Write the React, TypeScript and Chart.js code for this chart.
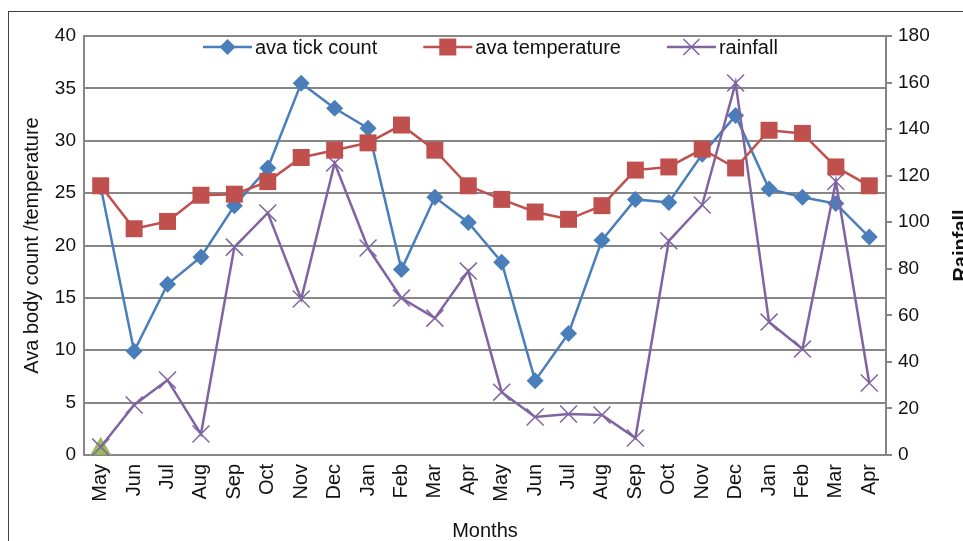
import React, { useEffect, useRef } from 'react';
import { Chart, registerables } from 'chart.js';

Chart.register(...registerables);

const months = ['May', 'Jun', 'Jul', 'Aug', 'Sep', 'Oct', 'Nov', 'Dec', 'Jan', 'Feb', 'Mar', 'Apr',
  'May', 'Jun', 'Jul', 'Aug', 'Sep', 'Oct', 'Nov', 'Dec', 'Jan', 'Feb', 'Mar', 'Apr'];

const tickCount = [25.6, 9.9, 16.3, 18.9, 23.8, 27.4, 35.5, 33.1, 31.2, 17.7, 24.6, 22.2,
  18.4, 7.1, 11.6, 20.5, 24.4, 24.1, 28.7, 32.4, 25.4, 24.6, 24.0, 20.8];

const temperature = [25.7, 21.6, 22.3, 24.8, 24.9, 26.1, 28.4, 29.1, 29.8, 31.5, 29.1, 25.7,
  24.4, 23.2, 22.5, 23.8, 27.2, 27.5, 29.2, 27.4, 31.0, 30.7, 27.5, 25.7];

const rainfall = [3.4, 21.5, 32.2, 9.0, 89.3, 104, 67, 125.4, 88.9, 67.4, 58.8, 79,
  27, 16.3, 17.6, 17.2, 7.3, 92, 107.4, 159.8, 57.1, 45.5, 117.5, 30.9];

const extraMarker = [0.6];

const leftTicks = { min: 0, max: 40, step: 5 };
const rightTicks = { min: 0, max: 180, step: 20 };

const FONT = '"Liberation Sans", Arial, sans-serif';
const BLUE = '#4A7EBB';
const RED = '#C0504D';
const PURPLE = '#8064A2';
const GREEN = '#9BBB59';
const GRID = '#868686';

const legendEntries = [
  { label: 'ava tick count', color: BLUE, style: 'diamond' },
  { label: 'ava temperature', color: RED, style: 'square' },
  { label: 'rainfall', color: PURPLE, style: 'cross' },
];

function drawMarker(ctx: CanvasRenderingContext2D, style: string, x: number, y: number, color: string) {
  ctx.save();
  ctx.fillStyle = color;
  ctx.strokeStyle = color;
  if (style === 'diamond') {
    const r = 8;
    ctx.beginPath();
    ctx.moveTo(x, y - r);
    ctx.lineTo(x + r, y);
    ctx.lineTo(x, y + r);
    ctx.lineTo(x - r, y);
    ctx.closePath();
    ctx.fill();
  } else if (style === 'square') {
    const s = 8.5;
    ctx.fillRect(x - s, y - s, 2 * s, 2 * s);
  } else {
    const r = 8;
    ctx.lineWidth = 1.5;
    ctx.beginPath();
    ctx.moveTo(x - r, y - r);
    ctx.lineTo(x + r, y + r);
    ctx.moveTo(x + r, y - r);
    ctx.lineTo(x - r, y + r);
    ctx.stroke();
  }
  ctx.restore();
}

const excelLegend = {
  id: 'excelLegend',
  afterDraw(chart: any) {
    const ctx: CanvasRenderingContext2D = chart.ctx;
    const area = chart.chartArea;
    ctx.save();
    ctx.font = `20px ${FONT}`;
    const lineLen = 49;
    const textGap = 3;
    const itemGap = 46;
    const widths = legendEntries.map((e) => lineLen + textGap + ctx.measureText(e.label).width);
    let x = area.left + 119;
    const y = area.top + 11;
    legendEntries.forEach((e, i) => {
      ctx.strokeStyle = e.color;
      ctx.lineWidth = 2.5;
      ctx.beginPath();
      ctx.moveTo(x, y);
      ctx.lineTo(x + lineLen, y);
      ctx.stroke();
      drawMarker(ctx, e.style, x + lineLen / 2, y, e.color);
      ctx.fillStyle = '#111';
      ctx.textBaseline = 'middle';
      ctx.textAlign = 'left';
      ctx.fillText(e.label, x + lineLen + textGap, y + 1);
      x += widths[i] + itemGap;
    });
    // right axis title
    ctx.font = `bold 20px ${FONT}`;
    ctx.fillStyle = '#111';
    ctx.translate(961, (area.top + area.bottom) / 2);
    ctx.rotate(-Math.PI / 2);
    ctx.textAlign = 'center';
    ctx.textBaseline = 'middle';
    ctx.fillText('Rainfall', 0, 0);
    ctx.restore();
  },
};

export default function App() {
  const ref = useRef<HTMLCanvasElement>(null);

  useEffect(() => {
    if (!ref.current) return;
    const chart = new Chart(ref.current, {
      type: 'line',
      data: {
        labels: months,
        datasets: [
          {
            label: 'ava tick count',
            data: tickCount,
            yAxisID: 'y',
            borderColor: BLUE,
            backgroundColor: BLUE,
            borderWidth: 2.5,
            pointStyle: 'rectRot',
            pointRadius: 8.5,
            pointBorderWidth: 0,
            tension: 0,
            order: 2,
            clip: false,
          },
          {
            label: 'ava temperature',
            data: temperature,
            yAxisID: 'y',
            borderColor: RED,
            backgroundColor: RED,
            borderWidth: 2.5,
            pointStyle: 'rect',
            pointRadius: 12,
            pointBorderWidth: 0,
            tension: 0,
            order: 0,
            clip: false,
          },
          {
            label: 'rainfall',
            data: rainfall,
            yAxisID: 'y1',
            borderColor: PURPLE,
            backgroundColor: PURPLE,
            borderWidth: 2.5,
            pointStyle: 'crossRot',
            pointRadius: 12,
            pointBorderWidth: 1.5,
            pointBorderColor: PURPLE,
            tension: 0,
            order: 1,
            clip: false,
          },
          {
            label: 'marker',
            data: extraMarker,
            yAxisID: 'y',
            borderColor: GREEN,
            backgroundColor: GREEN,
            showLine: false,
            pointStyle: 'triangle',
            pointRadius: 12,
            pointBorderWidth: 0,
            order: 3,
            clip: false,
          },
        ],
      },
      options: {
        responsive: false,
        animation: false,
        layout: { padding: { left: 17, top: 36, right: 0, bottom: 0 } },
        plugins: {
          legend: { display: false },
          tooltip: { enabled: false },
        },
        scales: {
          x: {
            type: 'category',
            offset: true,
            grid: { display: false, drawTicks: true, tickLength: 5 },
            border: { display: true, color: GRID, width: 2 },
            ticks: {
              color: '#111',
              font: { family: FONT, size: 20 },
              minRotation: 90,
              maxRotation: 90,
              autoSkip: false,
              padding: 4,
            },
            title: {
              display: true,
              text: 'Months',
              color: '#111',
              font: { family: FONT, size: 20, lineHeight: 1 },
              padding: 0,
            },
            afterFit: (s: any) => { s.height = 86; },
          },
          y: {
            position: 'left',
            min: leftTicks.min,
            max: leftTicks.max,
            grid: { color: GRID, lineWidth: 2, drawTicks: false },
            border: { display: true, color: GRID, width: 2 },
            ticks: {
              stepSize: leftTicks.step,
              color: '#111',
              font: { family: FONT, size: 19 },
              padding: 8,
            },
            title: {
              display: true,
              text: 'Ava body count /temperature',
              color: '#111',
              font: { family: FONT, size: 20, lineHeight: 1 },
              padding: { top: 5, bottom: 0 },
            },
            afterFit: (s: any) => { s.width = 67; },
          },
          y1: {
            position: 'right',
            min: rightTicks.min,
            max: rightTicks.max,
            grid: { drawOnChartArea: false, color: GRID, lineWidth: 2, tickLength: 6 },
            border: { display: true, color: GRID, width: 2 },
            ticks: {
              stepSize: rightTicks.step,
              color: '#111',
              font: { family: FONT, size: 19 },
              padding: 6,
            },
            afterFit: (s: any) => { s.width = 77; },
          },
        },
      },
      plugins: [excelLegend],
    });
    return () => chart.destroy();
  }, []);

  return (
    <div style={{ position: 'fixed', left: 0, top: 0, width: 963, height: 541, overflow: 'hidden', background: '#fff' }}>
      <div
        style={{
          position: 'absolute', left: 8, top: 11, width: 1100, height: 700,
          borderLeft: '1px solid #404040', borderTop: '1px solid #404040',
        }}
      />
      <canvas ref={ref} width={963} height={541} style={{ position: 'absolute', left: 0, top: 0, width: 963, height: 541 }} />
    </div>
  );
}
